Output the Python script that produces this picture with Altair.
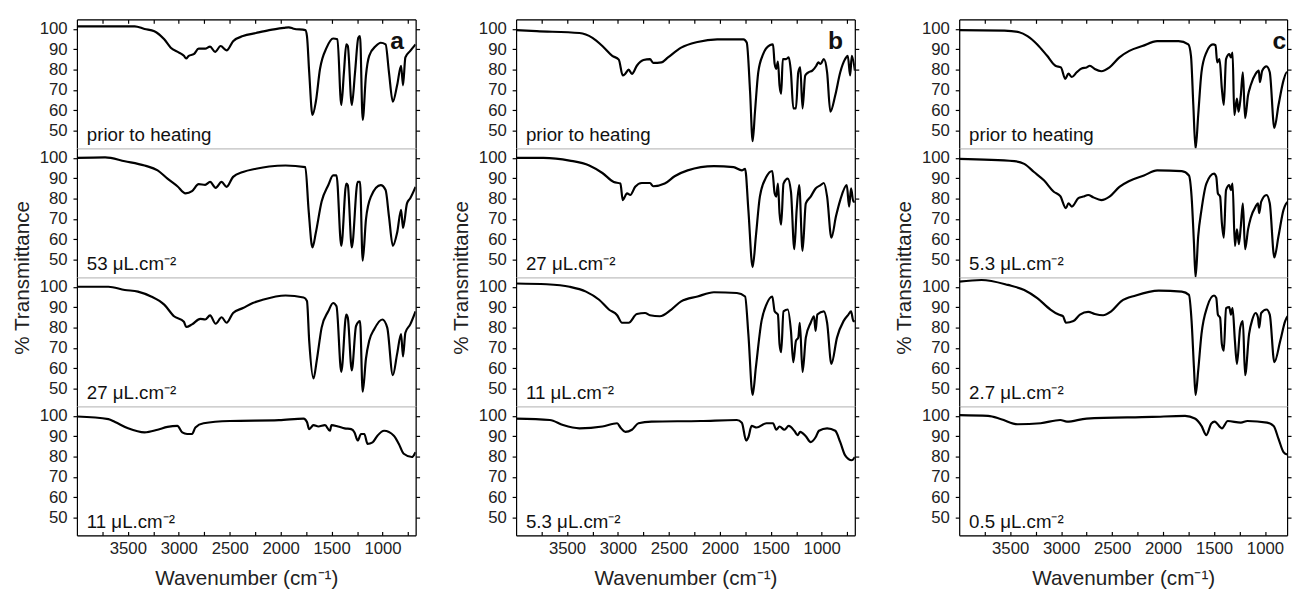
import altair as alt
import pandas as pd

# ---------------- data ----------------
T_DOMAIN = [41.3, 104.7]
WN_DOMAIN_AB = [4000, 675]
WN_DOMAIN_C = [4000, 783]
Y_TICKS = [50, 60, 70, 80, 90, 100]
X_TICKS = [3750, 3500, 3250, 3000, 2750, 2500, 2250, 2000, 1750, 1500, 1250, 1000, 750]

a_prior_wn = [4000, 3433, 3336, 3240, 3143, 3079, 2998, 2950, 2928, 2902, 2853, 2805, 2741, 2693, 2644, 2589, 2531, 2467, 2370, 2242, 2113, 1968, 1920, 1872, 1758, 1742, 1720, 1688, 1655, 1614, 1549, 1485, 1443, 1405, 1379, 1356, 1341, 1302, 1270, 1238, 1221, 1195, 1163, 1131, 1066, 1018, 970, 937, 899, 857, 818, 799, 776, 728, 676]
a_prior_t = [101.3, 101.3, 100, 98.9, 94.9, 90.8, 88.4, 86.8, 85.5, 86.8, 87.6, 90.3, 90.3, 91.3, 88.7, 91.6, 89.5, 94, 96.5, 98, 99.4, 100.5, 100.8, 100.1, 99.4, 96.5, 78.7, 57.7, 64.2, 80.3, 90.8, 95.3, 94.9, 62.6, 78.7, 92.4, 91.6, 62.6, 78.7, 95.7, 96.5, 55.3, 77.1, 86.8, 91.6, 93.2, 92.4, 78.7, 64.2, 72.3, 81.9, 72.3, 86, 89.2, 92.4]

a_53_wn = [4000, 3723, 3530, 3336, 3208, 3111, 3014, 2934, 2870, 2805, 2741, 2693, 2638, 2580, 2531, 2467, 2370, 2242, 2113, 1952, 1758, 1726, 1688, 1655, 1598, 1533, 1485, 1452, 1405, 1356, 1341, 1302, 1244, 1221, 1195, 1163, 1114, 1018, 970, 937, 899, 857, 818, 799, 760, 728, 676]
a_53_t = [100, 100.3, 98.4, 96.3, 93.9, 89.8, 86.1, 82.6, 83.7, 87.1, 86.8, 88.2, 85.3, 88.2, 85.8, 90.7, 93.1, 94.7, 95.8, 96.3, 95.5, 74.5, 56, 63.2, 78.6, 86.6, 91.4, 91.4, 56.8, 87.4, 86.6, 56, 88.2, 88.2, 49.5, 69.7, 81, 86.6, 84.2, 71.3, 56.8, 63.2, 74.5, 65.6, 77.7, 80.2, 85.8]

a_27_wn = [4000, 3691, 3530, 3401, 3272, 3143, 3047, 2950, 2928, 2870, 2789, 2741, 2693, 2638, 2580, 2531, 2467, 2370, 2274, 2177, 1952, 1775, 1742, 1720, 1678, 1646, 1598, 1533, 1485, 1452, 1405, 1356, 1341, 1302, 1260, 1221, 1195, 1163, 1131, 1082, 1002, 954, 899, 857, 818, 799, 776, 728, 676]
a_27_t = [100.1, 100.1, 98.5, 97.7, 95.3, 91.3, 85.6, 82.9, 80.3, 81.6, 84.3, 84, 86, 81.9, 85.1, 82.4, 87.2, 89.6, 92.1, 93.7, 95.8, 94.8, 93.1, 73.5, 55, 63.8, 80, 88, 92.1, 90.5, 58.2, 86.4, 84.8, 59, 80.8, 83.2, 48.5, 64.7, 73.5, 79.2, 84, 80, 56.6, 67.1, 76.8, 65.8, 77.5, 81.6, 88]

a_11_wn = [4000, 3691, 3626, 3498, 3336, 3208, 3111, 3014, 2966, 2918, 2870, 2837, 2757, 2499, 2016, 1775, 1742, 1720, 1678, 1630, 1565, 1517, 1501, 1437, 1372, 1308, 1275, 1244, 1211, 1179, 1147, 1098, 1050, 985, 889, 841, 792, 712, 676]
a_11_t = [99.7, 98.4, 97, 93.9, 91.9, 93.2, 94.6, 95.1, 91.9, 91.1, 91.1, 94.3, 96.4, 97.5, 97.9, 98.7, 97, 93.5, 95.5, 94.8, 95.5, 92.7, 95.5, 94.8, 93.9, 93.5, 91.9, 87.9, 91.1, 91.1, 86.3, 87, 90.3, 92.7, 90.3, 86.3, 81.4, 79.8, 82.2]

b_prior_wn = [4000, 3797, 3378, 3250, 3153, 3056, 2992, 2953, 2928, 2895, 2863, 2815, 2750, 2686, 2654, 2573, 2509, 2380, 2219, 2026, 1768, 1736, 1703, 1678, 1655, 1623, 1575, 1510, 1478, 1462, 1446, 1430, 1414, 1398, 1382, 1350, 1324, 1302, 1279, 1253, 1230, 1211, 1188, 1162, 1130, 1092, 1053, 1034, 1011, 979, 947, 915, 867, 818, 770, 744, 721, 705, 674]
b_prior_t = [99.4, 98.9, 98, 95.6, 91.6, 86.8, 84.9, 77.1, 78, 80, 77.9, 81.9, 84.7, 85.2, 83.3, 83.6, 86, 90.8, 93.6, 94.9, 94.9, 93.3, 69, 44.8, 59.3, 78.7, 87.6, 92, 92.4, 82.8, 80.4, 84, 72.3, 68.2, 85.2, 85.2, 86, 78.7, 61, 61, 78.7, 81.1, 61, 77.1, 78.7, 79.5, 81.9, 83.6, 82.8, 85.2, 78.7, 59.3, 67.4, 78.7, 85.2, 86.8, 77.1, 86.8, 79.5]

b_27_wn = [4000, 3732, 3475, 3282, 3153, 3041, 2976, 2953, 2911, 2879, 2831, 2766, 2686, 2654, 2541, 2444, 2316, 2058, 1865, 1784, 1752, 1720, 1678, 1646, 1607, 1543, 1485, 1462, 1446, 1430, 1414, 1398, 1375, 1333, 1302, 1269, 1246, 1221, 1188, 1156, 1108, 1060, 1011, 979, 947, 905, 860, 818, 754, 731, 712, 689, 674]
b_27_t = [100, 100, 98.7, 96.3, 92.6, 88.2, 87.4, 79.3, 82.6, 81.8, 85.8, 87.7, 87.7, 86.1, 87.4, 91, 93.9, 96, 95.5, 93.9, 94.7, 74.5, 46.3, 61.6, 81, 90.7, 93.6, 82.6, 81, 87.4, 72.9, 67.2, 87.4, 89.8, 83.4, 55.1, 74.5, 86.6, 54.3, 77.7, 81, 85, 86.6, 87.7, 81, 60.8, 71.3, 79.3, 86.6, 76.1, 85, 78.5, 78.5]

b_11_wn = [4000, 3700, 3475, 3314, 3185, 3089, 3008, 2960, 2895, 2815, 2734, 2686, 2589, 2476, 2380, 2219, 2058, 1833, 1752, 1720, 1678, 1646, 1591, 1543, 1485, 1462, 1430, 1414, 1398, 1375, 1333, 1302, 1279, 1253, 1230, 1215, 1188, 1156, 1108, 1076, 1060, 1043, 979, 947, 905, 850, 786, 738, 712, 689, 674]
b_11_t = [101.7, 101.3, 100.1, 97.7, 93.7, 88.9, 86.1, 82.4, 82.4, 86.7, 87.2, 86.1, 85.6, 88.9, 92.9, 95.3, 97.4, 97, 95.3, 76.8, 46.9, 60.6, 83.2, 91.3, 95.3, 88, 86.4, 71.9, 67.9, 88, 88.9, 78.4, 63, 73.5, 75.1, 82.4, 58.2, 75.1, 82.4, 85.6, 78.4, 86.4, 88, 82.4, 62.2, 75.1, 83.2, 86.4, 88, 83.2, 83.2]

b_53_wn = [4000, 3669, 3539, 3378, 3153, 3008, 2976, 2928, 2863, 2799, 2670, 2187, 1833, 1784, 1742, 1720, 1688, 1639, 1543, 1478, 1446, 1414, 1366, 1324, 1269, 1237, 1211, 1156, 1108, 1060, 1027, 947, 867, 818, 770, 705, 674]
b_53_t = [98.7, 98, 95.5, 93.9, 94.8, 96.4, 94.3, 92.2, 93.2, 96.4, 97.2, 97.5, 98, 96.7, 87.9, 89.5, 95.1, 94.3, 96.4, 96.4, 93.2, 94.8, 93.2, 95.1, 92.7, 90.6, 92.2, 90, 87.1, 89.5, 92.7, 93.9, 92.7, 87.1, 80.6, 78.2, 79.8]

c_prior_wn = [4000, 3556, 3411, 3330, 3234, 3137, 3056, 3002, 2960, 2928, 2895, 2847, 2799, 2750, 2718, 2670, 2606, 2525, 2428, 2331, 2203, 2058, 1848, 1752, 1726, 1703, 1681, 1655, 1623, 1575, 1510, 1485, 1469, 1446, 1423, 1404, 1382, 1350, 1334, 1318, 1301, 1275, 1259, 1237, 1217, 1195, 1166, 1140, 1092, 1060, 1050, 1027, 985, 953, 908, 867, 818, 786, 760, 745]
c_prior_t = [99.4, 99.2, 98.4, 96.5, 92.4, 86.8, 81.9, 81.1, 75.5, 78, 76.4, 78.7, 80.6, 81.1, 81.9, 80.3, 79.2, 81.1, 86, 89.2, 91.6, 94, 94, 92.4, 86.8, 62.6, 41, 57.7, 78.7, 88.4, 92.4, 92, 83.6, 85.2, 70.7, 62.6, 85.2, 87.6, 86, 88.4, 57.7, 65.8, 59.3, 67.4, 78.7, 56.1, 67.4, 72.3, 77.9, 79.5, 73.9, 79.5, 81.6, 78.7, 51.3, 62.6, 74.7, 78.7, 76.3, 74]

c_53_wn = [4000, 3459, 3362, 3266, 3169, 3072, 3008, 2953, 2928, 2895, 2831, 2783, 2734, 2686, 2606, 2525, 2428, 2331, 2187, 2058, 1816, 1746, 1720, 1697, 1681, 1655, 1623, 1575, 1500, 1478, 1462, 1440, 1423, 1404, 1382, 1350, 1334, 1318, 1295, 1275, 1256, 1237, 1217, 1195, 1166, 1140, 1092, 1069, 1057, 1037, 985, 953, 908, 867, 818, 770, 747]
c_53_t = [99.5, 98.4, 97.1, 93.1, 89, 83.4, 81.2, 75.3, 77.7, 76.1, 80.2, 81, 81.8, 80.7, 79.3, 81, 85.8, 88.7, 91.4, 93.9, 93.5, 91.4, 81, 58.4, 41.4, 61.6, 74.5, 87.4, 92.3, 90.7, 82.6, 81, 68.1, 60.8, 84.2, 86.6, 84.2, 87.4, 56.8, 64.9, 57.6, 66.4, 77.7, 55.1, 64.9, 70.5, 76.1, 77.7, 72.9, 78.5, 81.8, 77.7, 51.1, 61.6, 74.5, 78.5, 74.5]

c_27_wn = [4000, 3781, 3523, 3362, 3234, 3105, 3024, 2982, 2953, 2879, 2815, 2734, 2670, 2589, 2509, 2412, 2267, 2042, 1816, 1746, 1720, 1697, 1681, 1655, 1623, 1565, 1500, 1478, 1462, 1440, 1423, 1404, 1382, 1350, 1334, 1318, 1295, 1275, 1243, 1217, 1195, 1156, 1124, 1092, 1069, 1057, 1037, 985, 953, 908, 850, 802, 747]
c_27_t = [102.6, 103.4, 101, 98.5, 94.5, 88.9, 86.4, 85.6, 82.4, 83.2, 86.4, 87.7, 86.7, 86.1, 88, 92.9, 95.8, 98.2, 97.7, 96.1, 83.2, 60.6, 46.9, 59, 76.8, 90.5, 95.8, 94.6, 86.4, 84.8, 71.9, 68.7, 89.6, 90.1, 86.4, 89.6, 73.5, 62.2, 80, 83.2, 56.6, 76.8, 84, 87.2, 85.1, 80, 87.2, 88.9, 86.4, 63, 73.5, 83.2, 87.2]

c_05_wn = [4000, 3717, 3588, 3427, 3201, 3008, 2943, 2750, 2106, 1784, 1688, 1623, 1575, 1527, 1494, 1423, 1365, 1237, 1172, 979, 915, 867, 818, 783]
c_05_t = [100.4, 100, 98.4, 95.9, 96.4, 98, 97.2, 98.7, 99.5, 100, 98.7, 95.1, 90.6, 96.2, 97.2, 93.9, 97.5, 96.7, 97.5, 96.7, 95.1, 88.7, 82.2, 81]

LABELS_A = ["prior to heating", "53 \u03bcL.cm\u207b\u00b2", "27 \u03bcL.cm\u207b\u00b2", "11 \u03bcL.cm\u207b\u00b2"]
LABELS_B = ["prior to heating", "27 \u03bcL.cm\u207b\u00b2", "11 \u03bcL.cm\u207b\u00b2", "5.3 \u03bcL.cm\u207b\u00b2"]
LABELS_C = ["prior to heating", "5.3 \u03bcL.cm\u207b\u00b2", "2.7 \u03bcL.cm\u207b\u00b2", "0.5 \u03bcL.cm\u207b\u00b2"]

SERIES_A = [(a_prior_wn, a_prior_t), (a_53_wn, a_53_t), (a_27_wn, a_27_t), (a_11_wn, a_11_t)]
SERIES_B = [(b_prior_wn, b_prior_t), (b_27_wn, b_27_t), (b_11_wn, b_11_t), (b_53_wn, b_53_t)]
SERIES_C = [(c_prior_wn, c_prior_t), (c_53_wn, c_53_t), (c_27_wn, c_27_t), (c_05_wn, c_05_t)]

# ---------------- styling ----------------
FONT = "Liberation Sans"
PANEL_H = 131
TICK_FS = 17
LABEL_FS = 19
TITLE_FS = 21


def panel(wn, t, label, row, letter, width, xdom):
    df = pd.DataFrame({"wn": wn, "t": t})
    xs = alt.Scale(domain=xdom, nice=False, zero=False)
    ys = alt.Scale(domain=T_DOMAIN, nice=False, zero=False)

    if row == 3:
        x_axis = alt.Axis(
            values=X_TICKS, format="d",
            labelExpr="datum.value % 500 == 0 ? datum.label : ''",
            tickSize={"expr": "-4"}, labelPadding=9,
            title="Wavenumber (cm\u207b\u00b9)", titlePadding=12,
            domainColor="black", tickColor="black", grid=False,
        )
    else:
        x_axis = None

    if row == 1:
        y_axis = alt.Axis(values=Y_TICKS, tickSize=4, labelPadding=6, grid=False,
                          title="% Transmittance", titleY=PANEL_H, titlePadding=7,
                          domainColor="black", tickColor="black")
    else:
        y_axis = alt.Axis(values=Y_TICKS, tickSize=4, labelPadding=6, grid=False,
                          title=None, domainColor="black", tickColor="black")

    main = alt.Chart(df).mark_line(color="black", strokeWidth=2.2, clip=True,
                                   interpolate="monotone").encode(
        x=alt.X("wn:Q", scale=xs, axis=x_axis),
        y=alt.Y("t:Q", scale=ys, axis=y_axis),
    )

    top_axis = None
    if row == 0:
        top_axis = alt.Axis(orient="top", values=X_TICKS, labels=False,
                            tickSize={"expr": "-4"}, title=None, grid=False,
                            domainColor="black", tickColor="black")
    mirror = alt.Chart(df).mark_line(strokeOpacity=0, clip=True).encode(
        x=alt.X("wn:Q", scale=xs, axis=top_axis),
        y=alt.Y("t:Q", scale=ys, axis=alt.Axis(orient="right", values=Y_TICKS, labels=False,
                                               tickSize=4, title=None, grid=False,
                                               domainColor="black", tickColor="black")),
    )

    txt = alt.Chart(pd.DataFrame({"s": [label]})).mark_text(
        align="left", baseline="alphabetic", font=FONT, fontSize=LABEL_FS, color="#111"
    ).encode(text="s:N", x=alt.value(10), y=alt.value(PANEL_H - 7))

    layers = [main, mirror, txt]
    if row == 0:
        let = alt.Chart(pd.DataFrame({"s": [letter]})).mark_text(
            align="right", baseline="alphabetic", font=FONT, fontSize=25,
            fontWeight="bold", color="#111"
        ).encode(text="s:N", x=alt.value(332), y=alt.value(30))
        layers.append(let)

    return alt.layer(*layers).resolve_axis(x="independent", y="independent").properties(
        width=width, height=PANEL_H
    )


def column(series, labels, letter, width, xdom):
    charts = [panel(s[0], s[1], labels[i], i, letter, width, xdom) for i, s in enumerate(series)]
    return alt.vconcat(*charts, spacing=0, bounds="flush")


col_a = column(SERIES_A, LABELS_A, "a", 344, WN_DOMAIN_AB)
col_b = column(SERIES_B, LABELS_B, "b", 344, WN_DOMAIN_AB)
col_c = column(SERIES_C, LABELS_C, "c", 333, WN_DOMAIN_C)

chart = alt.hconcat(col_a, alt.hconcat(col_b, col_c, spacing=33), spacing=29).properties(
    padding={"left": 3, "top": 5, "right": 0, "bottom": 0}
).configure_view(
    stroke="#c8c8c8", strokeWidth=1
).configure_axis(
    labelFont=FONT, titleFont=FONT, labelFontSize=TICK_FS, titleFontSize=TITLE_FS,
    labelColor="#222", titleColor="#222", titleFontWeight="normal", domainWidth=1.2,
    tickWidth=1.2
)

chart.save("out.html", embed_options={"renderer": "svg", "actions": False})
